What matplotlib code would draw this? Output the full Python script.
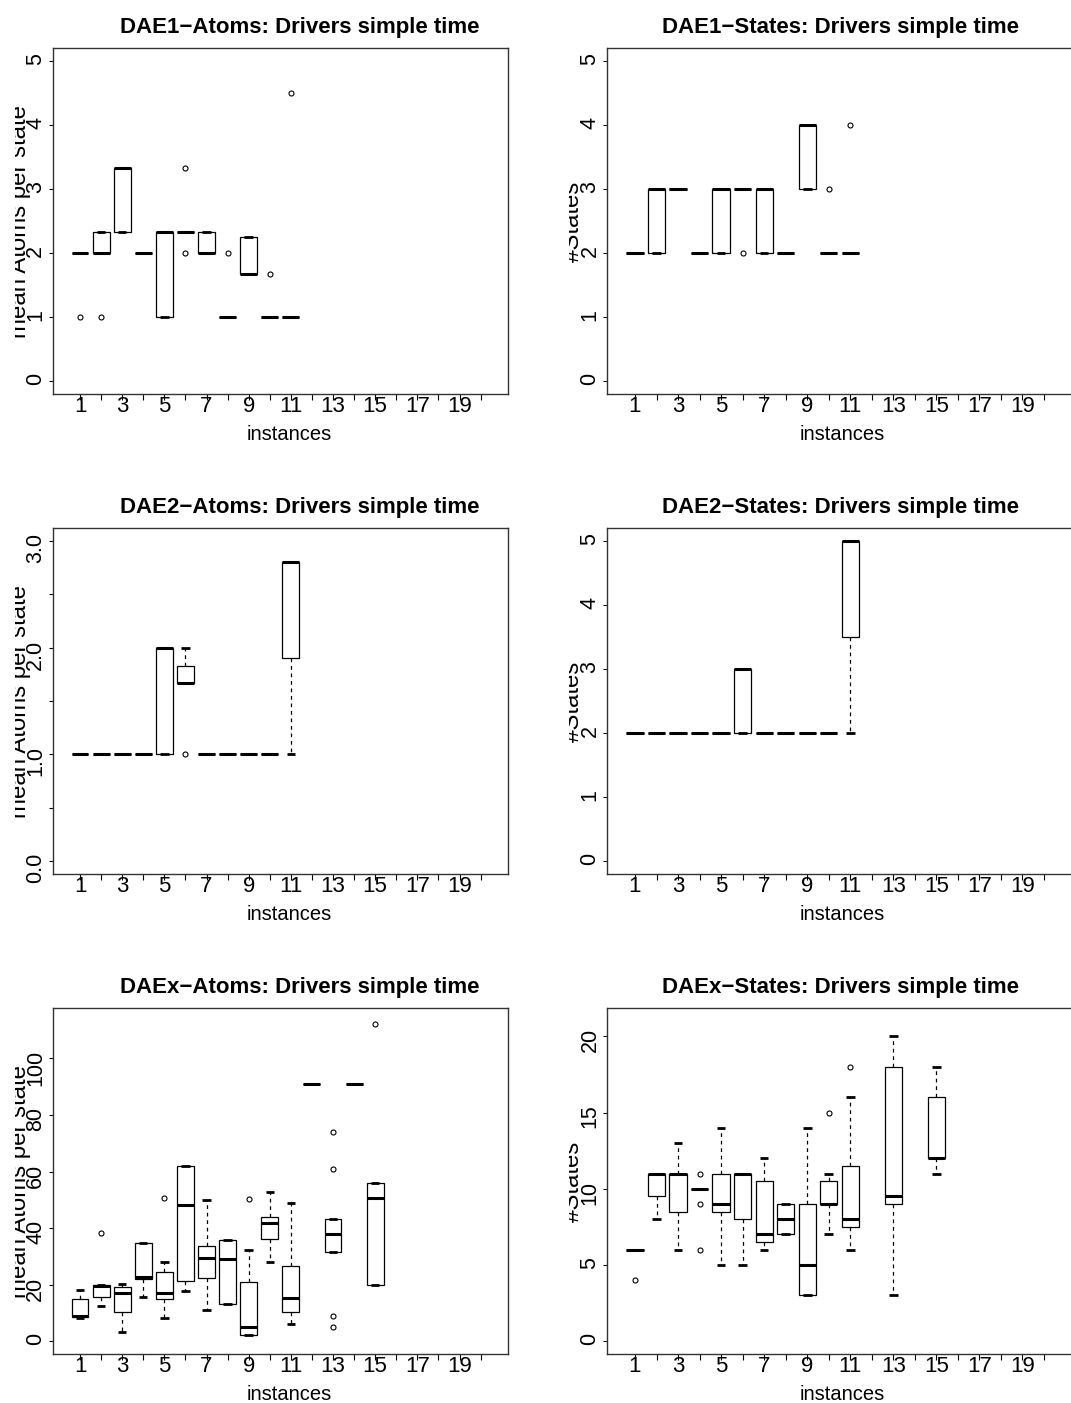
import matplotlib
matplotlib.use("Agg")
import matplotlib.pyplot as plt
from matplotlib.transforms import Bbox

NARROW = ['Liberation Sans Narrow', 'Liberation Sans', 'DejaVu Sans']
REGULAR = ['Liberation Sans', 'DejaVu Sans']
plt.rcParams['font.family'] = NARROW

# ---- data: (whisker low, q1, median, q3, whisker high) per instance, None = no data
instances = list(range(1, 21))

dae1_atoms = [(2, 2, 2, 2, 2), (2, 2, 2, 2.333, 2.333), (2.333, 2.333, 3.333, 3.333, 3.333),
              (2, 2, 2, 2, 2), (1, 1, 2.333, 2.333, 2.333), (2.333, 2.333, 2.333, 2.333, 2.333),
              (2, 2, 2, 2.333, 2.333), (1, 1, 1, 1, 1), (1.667, 1.667, 1.667, 2.25, 2.25),
              (1, 1, 1, 1, 1), (1, 1, 1, 1, 1)]
dae1_atoms_out = [[1], [1], [], [], [], [2, 3.333], [], [2], [], [1.667], [4.5]]

dae1_states = [(2, 2, 2, 2, 2), (2, 2, 3, 3, 3), (3, 3, 3, 3, 3), (2, 2, 2, 2, 2),
               (2, 2, 3, 3, 3), (3, 3, 3, 3, 3), (2, 2, 3, 3, 3), (2, 2, 2, 2, 2),
               (3, 3, 4, 4, 4), (2, 2, 2, 2, 2), (2, 2, 2, 2, 2)]
dae1_states_out = [[], [], [], [], [], [2], [], [], [], [3], [4]]

dae2_atoms = [(1, 1, 1, 1, 1), (1, 1, 1, 1, 1), (1, 1, 1, 1, 1), (1, 1, 1, 1, 1),
              (1, 1, 2, 2, 2), (1.667, 1.667, 1.667, 1.833, 2.0), (1, 1, 1, 1, 1),
              (1, 1, 1, 1, 1), (1, 1, 1, 1, 1), (1, 1, 1, 1, 1), (1, 1.9, 2.8, 2.8, 2.8)]
dae2_atoms_out = [[], [], [], [], [], [1], [], [], [], [], []]

dae2_states = [(2, 2, 2, 2, 2), (2, 2, 2, 2, 2), (2, 2, 2, 2, 2), (2, 2, 2, 2, 2),
               (2, 2, 2, 2, 2), (2, 2, 3, 3, 3), (2, 2, 2, 2, 2), (2, 2, 2, 2, 2),
               (2, 2, 2, 2, 2), (2, 2, 2, 2, 2), (2, 3.5, 5, 5, 5)]
dae2_states_out = [[] for _ in range(11)]

daex_atoms = [(8.4, 8.7, 8.8, 14.8, 18), (12.3, 15.8, 19.5, 19.8, 19.8), (3.1, 10.5, 17.0, 19.1, 20.3),
              (15.8, 22.1, 22.7, 34.7, 34.7), (8.4, 14.9, 17.2, 24.4, 28.1), (17.9, 21.4, 48.2, 62.1, 62.1),
              (11.2, 22.5, 29.6, 33.6, 50.0), (13.0, 13.0, 29.0, 35.8, 35.8), (2.3, 2.3, 4.9, 20.8, 32.4),
              (28.1, 36.1, 41.8, 43.9, 52.6), (6.1, 10.4, 15.3, 26.7, 48.8), (91.1, 91.1, 91.1, 91.1, 91.1),
              (31.7, 31.7, 38.0, 43.3, 43.3), (91.1, 91.1, 91.1, 91.1, 91.1), (20.0, 20.0, 50.6, 55.8, 55.8)]
daex_atoms_out = [[], [38.2], [], [], [50.8], [], [], [], [50.4], [], [], [],
                  [73.8, 60.8, 9.1, 4.9], [], [112.1]]

daex_states = [(6, 6, 6, 6, 6), (8, 9.5, 11, 11, 11), (6, 8.5, 11, 11, 13), (10, 10, 10, 10, 10),
               (5, 8.5, 9, 11, 14), (5, 8, 11, 11, 11), (6, 6.5, 7, 10.5, 12), (7, 7, 8, 9, 9),
               (3, 3, 5, 9, 14), (7, 9, 9, 10.5, 11), (6, 7.5, 8, 11.5, 16), None,
               (3, 9, 9.5, 18, 20), None, (11, 12, 12, 16, 18)]
daex_states_out = [[4], [], [], [11, 9, 6], [], [], [], [], [], [15], [18], [], [], [], []]

W, H = 1071, 1403
fig = plt.figure(figsize=(W / 100, H / 100), dpi=100)

cols = [(52.6, 508.0), (607.0, 1072.0)]
rows = [(48.3, 394.0), (528.3, 874.0), (1008.3, 1354.0)]


def draw(col, row, stats, outs, ylim, yticks, ylabels, title, ylab, title_x, xlab_x, ylab_x, clip_x):
    x0, x1 = cols[col]
    yt, yb = rows[row]
    ax = fig.add_axes([x0 / W, 1 - yb / H, (x1 - x0) / W, (yb - yt) / H])
    bx, pos = [], []
    for i, (s, o) in enumerate(zip(stats, outs)):
        if s is None:
            continue
        lo, q1, med, q3, hi = s
        bx.append(dict(whislo=lo, q1=q1, med=med, q3=q3, whishi=hi, fliers=o))
        pos.append(i + 1)
    ax.bxp(bx, positions=pos, widths=0.8, capwidths=0.4, patch_artist=True,
           boxprops=dict(facecolor='white', edgecolor='black', linewidth=0.9),
           medianprops=dict(color='black', linewidth=2.2, solid_capstyle='butt'),
           whiskerprops=dict(color='black', linewidth=0.9, linestyle=(0, (3, 3))),
           capprops=dict(color='black', linewidth=2.0, solid_capstyle='butt'),
           flierprops=dict(marker='o', markersize=3.6, markerfacecolor='none',
                           markeredgecolor='black', markeredgewidth=0.8))
    ax.set_xlim(-0.3, 21.3)
    ax.set_ylim(*ylim)
    ax.set_xticks(instances)
    ax.set_xticklabels([str(i) if i % 2 else '' for i in instances])
    ax.set_yticks(yticks)
    ax.set_yticklabels(ylabels)
    ax.tick_params(axis='x', length=4.3, width=0.8, pad=-3, labelsize=16)
    ax.tick_params(axis='y', length=3.2, width=0.8, pad=1.5, labelsize=15.5, labelrotation=90)
    for lab in ax.get_yticklabels():
        lab.set_fontfamily(REGULAR)
    for sp in ax.spines.values():
        sp.set_linewidth(1.0)
        sp.set_color('#333333')

    fig.text(title_x / W, 1 - (yt - 15.3) / H, title, ha='center', va='baseline',
             fontsize=16, fontweight='bold')
    fig.text(xlab_x / W, 1 - (yb + 46) / H, 'instances', ha='center', va='baseline', fontsize=14.5)
    t = fig.text(ylab_x / W, 1 - ((yt + yb) / 2) / H, ylab, ha='center', va='baseline',
                 rotation=90, rotation_mode='anchor', fontsize=17.3, family=REGULAR)
    t.set_clip_box(Bbox.from_extents(clip_x, 0, W, H))
    t.set_clip_on(True)
    return ax


int5 = [0, 1, 2, 3, 4, 5]
draw(0, 0, dae1_atoms, dae1_atoms_out, (-0.2, 5.2), int5, [str(v) for v in int5],
     'DAE1\u2212Atoms: Drivers simple time', 'mean Atoms per state', 300, 289.5, 26.5, 15)
draw(1, 0, dae1_states, dae1_states_out, (-0.2, 5.2), int5, [str(v) for v in int5],
     'DAE1\u2212States: Drivers simple time', '#States', 840, 842.5, 578.5, 568.5)

half = [0, 0.5, 1, 1.5, 2, 2.5, 3]
draw(0, 1, dae2_atoms, dae2_atoms_out, (-0.12, 3.12), half,
     ['0.0', '', '1.0', '', '2.0', '', '3.0'],
     'DAE2\u2212Atoms: Drivers simple time', 'mean Atoms per state', 300, 289.5, 26.5, 15)
draw(1, 1, dae2_states, dae2_states_out, (-0.2, 5.2), int5, [str(v) for v in int5],
     'DAE2\u2212States: Drivers simple time', '#States', 840, 842.5, 578.5, 568.5)

draw(0, 2, daex_atoms, daex_atoms_out, (-4.5, 117.7), [0, 20, 40, 60, 80, 100],
     ['0', '20', '40', '60', '80', '100'],
     'DAEx\u2212Atoms: Drivers simple time', 'mean Atoms per state', 300, 289.5, 26.5, 15)
draw(1, 2, daex_states, daex_states_out, (-0.84, 21.84), [0, 5, 10, 15, 20],
     ['0', '5', '10', '15', '20'],
     'DAEx\u2212States: Drivers simple time', '#States', 840, 842.5, 578.5, 568.5)

fig.savefig('out.png', dpi=100, facecolor='white')
